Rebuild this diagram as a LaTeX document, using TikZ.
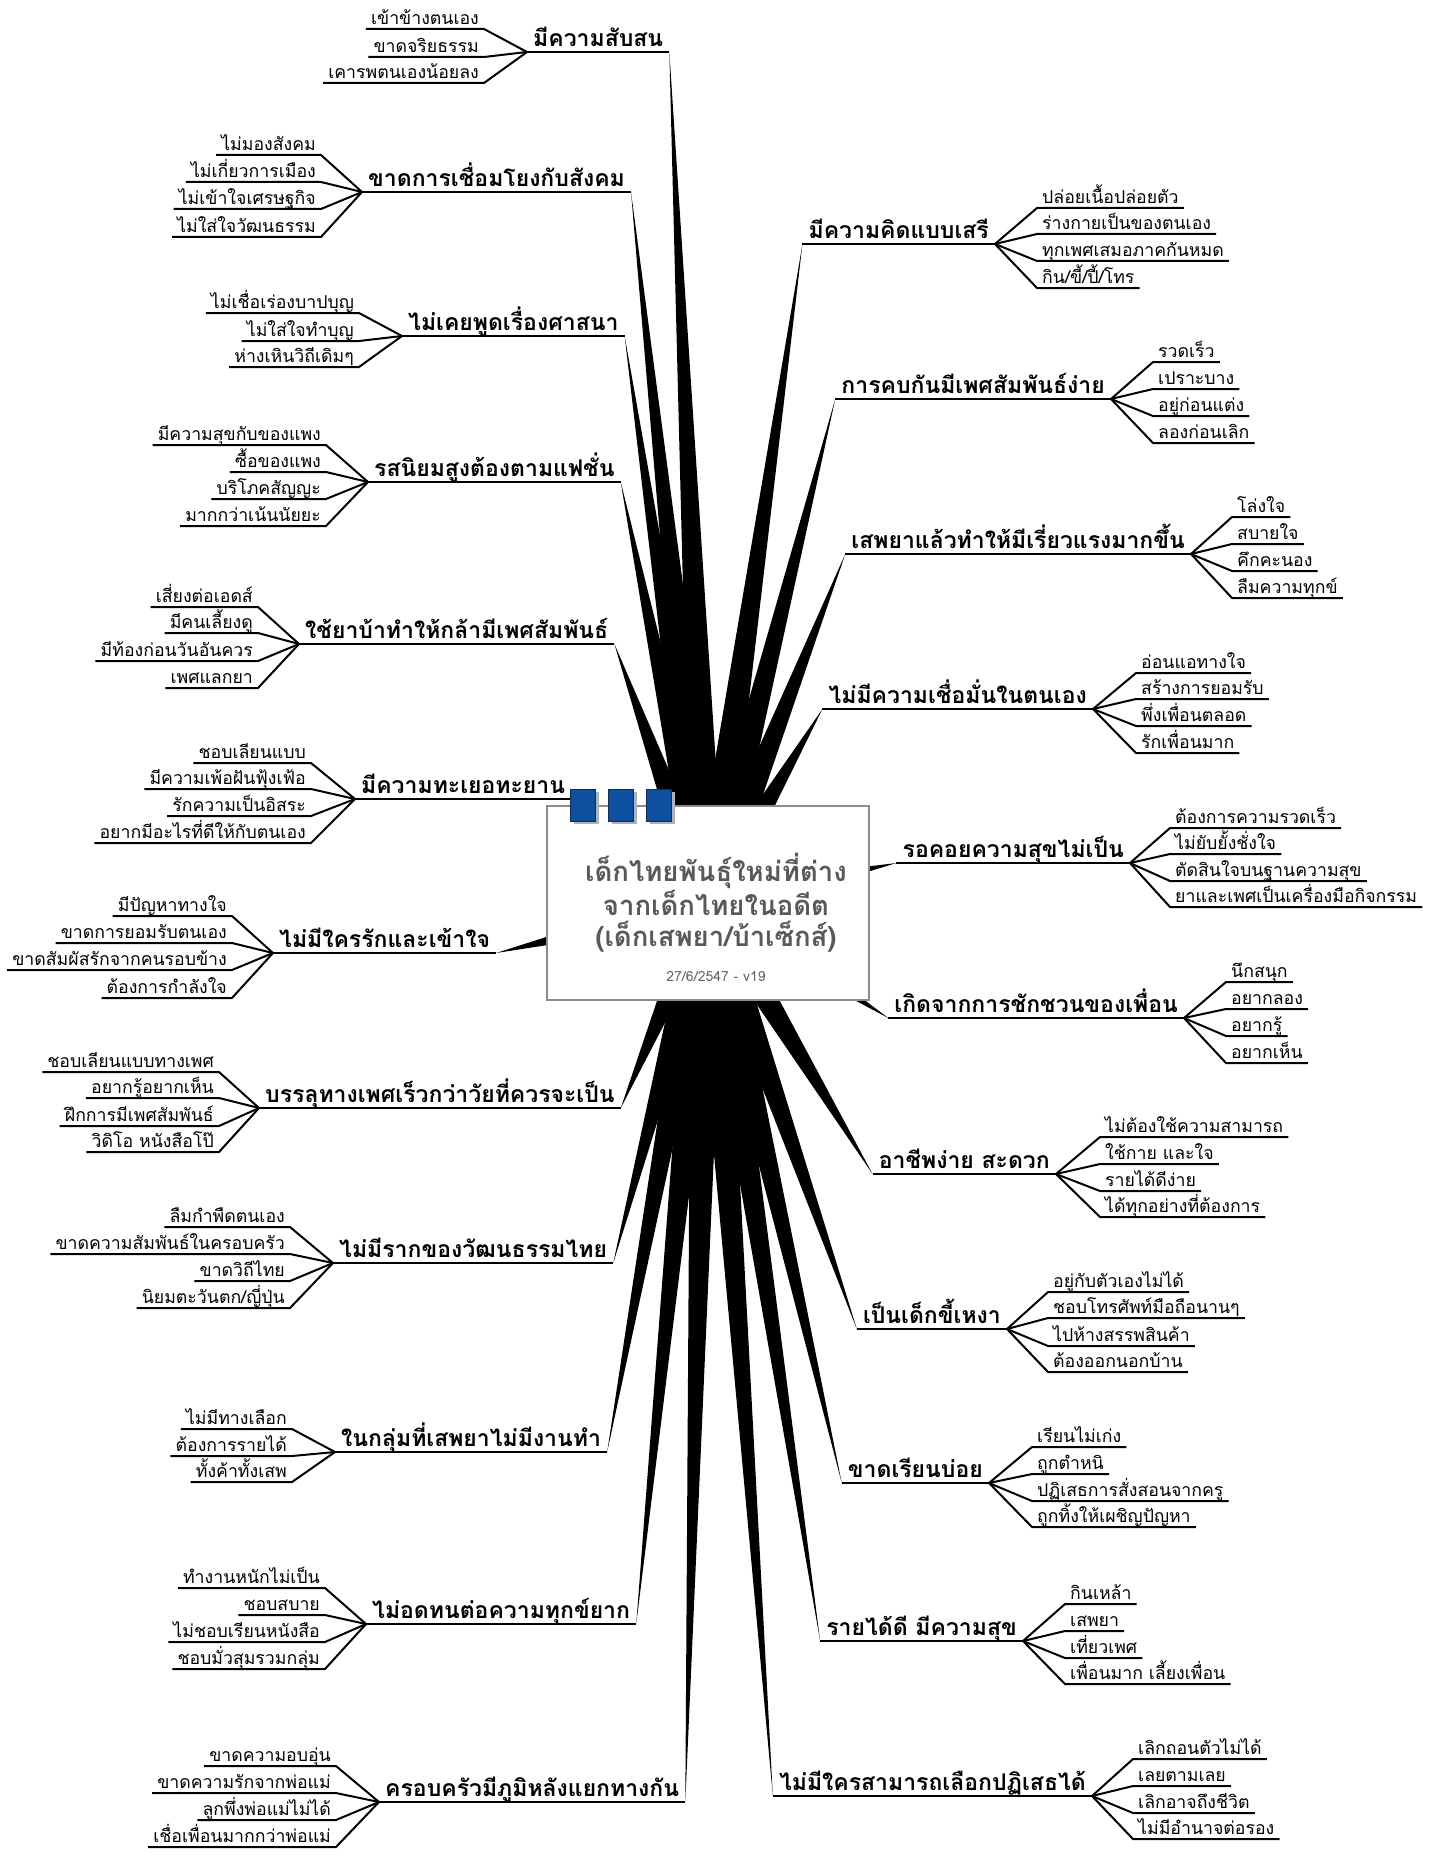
\documentclass[tikz,border=0pt]{standalone}
\usepackage{fontspec}
\setmainfont[Script=Thai]{Loma}
\usetikzlibrary{calc,shadows}
\definecolor{padblue}{HTML}{0F4FA0}
\newcommand{\subfont}{\fontsize{17.7}{20}\selectfont}
\newcommand{\topicfont}{\fontsize{23}{27}\selectfont\bfseries}
\newcommand{\spoke}[1]{\fill (#1) -- ($(hub)!17pt!90:(#1)$) -- ($(hub)!17pt!-90:(#1)$) -- cycle;}

\begin{document}
\begin{tikzpicture}[x=1pt,y=-1pt,
    sub/.style={font=\subfont,inner xsep=5pt,inner ysep=1pt,text depth=3pt},
    lsub/.style={sub,anchor=south east},
    rsub/.style={sub,anchor=south west},
    topic/.style={font=\topicfont,inner xsep=6pt,inner ysep=1pt,text depth=4pt},
    ltopic/.style={topic,anchor=south west},
    rtopic/.style={topic,anchor=south east},
    twig/.style={line width=2pt},
    bough/.style={line width=2.5pt},
    pad/.style={draw=padblue!60!black,fill=padblue,minimum width=25pt,minimum height=32pt,inner sep=0pt,
      drop shadow={shadow xshift=3pt,shadow yshift=-3pt,fill=black!30,opacity=1}},
    core/.style={draw=black!45,fill=white,line width=1.2pt,minimum width=322pt,minimum height=194pt}]
\useasboundingbox (0,0) rectangle (1430,1862);
\coordinate (hub) at (708,903);

% left branches
\node[ltopic] (t1) at (527,52) {มีความสับสน};
\node[lsub] (t1a) at (484,29) {เข้าข้างตนเอง};
\node[lsub] (t1b) at (484,57) {ขาดจริยธรรม};
\node[lsub] (t1c) at (484,83) {เคารพตนเองน้อยลง};

\node[ltopic] (t2) at (362,192) {ขาดการเชื่อมโยงกับสังคม};
\node[lsub] (t2a) at (321,155) {ไม่มองสังคม};
\node[lsub] (t2b) at (321,182) {ไม่เกี่ยวการเมือง};
\node[lsub] (t2c) at (321,209) {ไม่เข้าใจเศรษฐกิจ};
\node[lsub] (t2d) at (321,237) {ไม่ใส่ใจวัฒนธรรม};

\node[ltopic] (t3) at (402,336) {ไม่เคยพูดเรื่องศาสนา};
\node[lsub] (t3a) at (359,313) {ไม่เชื่อเร่องบาปบุญ};
\node[lsub] (t3b) at (359,341) {ไม่ใส่ใจทำบุญ};
\node[lsub] (t3c) at (359,367) {ห่างเหินวิถีเดิมๆ};

\node[ltopic] (t4) at (368,482) {รสนิยมสูงต้องตามแฟชั่น};
\node[lsub] (t4a) at (326,445) {มีความสุขกับของแพง};
\node[lsub] (t4b) at (326,472) {ซื้อของแพง};
\node[lsub] (t4c) at (326,499) {บริโภคสัญญะ};
\node[lsub] (t4d) at (326,526) {มากกว่าเน้นนัยยะ};

\node[ltopic] (t5) at (299,644) {ใช้ยาบ้าทำให้กล้ามีเพศสัมพันธ์};
\node[lsub] (t5a) at (258,607) {เสี่ยงต่อเอดส์};
\node[lsub] (t5b) at (258,633) {มีคนเลี้ยงดู};
\node[lsub] (t5c) at (258,661) {มีท้องก่อนวันอันควร};
\node[lsub] (t5d) at (258,688) {เพศแลกยา};

\node[ltopic] (t6) at (355,799) {มีความทะเยอทะยาน};
\node[lsub] (t6a) at (311,763) {ชอบเลียนแบบ};
\node[lsub] (t6b) at (311,789) {มีความเพ้อฝันฟุ้งเฟ้อ};
\node[lsub] (t6c) at (311,816) {รักความเป็นอิสระ};
\node[lsub] (t6d) at (311,843) {อยากมีอะไรที่ดีให้กับตนเอง};

\node[ltopic] (t7) at (273,953) {ไม่มีใครรักและเข้าใจ};
\node[lsub] (t7a) at (232,916) {มีปัญหาทางใจ};
\node[lsub] (t7b) at (232,943) {ขาดการยอมรับตนเอง};
\node[lsub] (t7c) at (232,970) {ขาดสัมผัสรักจากคนรอบข้าง};
\node[lsub] (t7d) at (232,998) {ต้องการกำลังใจ};

\node[ltopic] (t8) at (259,1108) {บรรลุทางเพศเร็วกว่าวัยที่ควรจะเป็น};
\node[lsub] (t8a) at (219,1072) {ชอบเลียนแบบทางเพศ};
\node[lsub] (t8b) at (219,1098) {อยากรู้อยากเห็น};
\node[lsub] (t8c) at (219,1126) {ฝึกการมีเพศสัมพันธ์};
\node[lsub] (t8d) at (219,1152) {วิดิโอ หนังสือโป๊};

\node[ltopic] (t9) at (333,1263) {ไม่มีรากของวัฒนธรรมไทย};
\node[lsub] (t9a) at (290,1227) {ลืมกำพืดตนเอง};
\node[lsub] (t9b) at (290,1254) {ขาดความสัมพันธ์ในครอบครัว};
\node[lsub] (t9c) at (290,1281) {ขาดวิถีไทย};
\node[lsub] (t9d) at (290,1308) {นิยมตะวันตก/ญี่ปุ่น};

\node[ltopic] (t10) at (335,1452) {ในกลุ่มที่เสพยาไม่มีงานทำ};
\node[lsub] (t10a) at (292,1429) {ไม่มีทางเลือก};
\node[lsub] (t10b) at (292,1456) {ต้องการรายได้};
\node[lsub] (t10c) at (292,1482) {ทั้งค้าทั้งเสพ};

\node[ltopic] (t11) at (366,1624) {ไม่อดทนต่อความทุกข์ยาก};
\node[lsub] (t11a) at (325,1588) {ทำงานหนักไม่เป็น};
\node[lsub] (t11b) at (325,1615) {ชอบสบาย};
\node[lsub] (t11c) at (325,1642) {ไม่ชอบเรียนหนังสือ};
\node[lsub] (t11d) at (325,1669) {ชอบมั่วสุมรวมกลุ่ม};

\node[ltopic] (t12) at (379,1802) {ครอบครัวมีภูมิหลังแยกทางกัน};
\node[lsub] (t12a) at (336,1766) {ขาดความอบอุ่น};
\node[lsub] (t12b) at (336,1793) {ขาดความรักจากพ่อแม่};
\node[lsub] (t12c) at (336,1820) {ลูกพึ่งพ่อแม่ไม่ได้};
\node[lsub] (t12d) at (336,1847) {เชื่อเพื่อนมากกว่าพ่อแม่};

% right branches
\node[rtopic] (r1) at (995,244) {มีความคิดแบบเสรี};
\node[rsub] (r1a) at (1037,208) {ปล่อยเนื้อปล่อยตัว};
\node[rsub] (r1b) at (1037,234) {ร่างกายเป็นของตนเอง};
\node[rsub] (r1c) at (1037,261) {ทุกเพศเสมอภาคกันหมด};
\node[rsub] (r1d) at (1037,288) {กิน/ขี้/ปี้/โทร};

\node[rtopic] (r2) at (1111,399) {การคบกันมีเพศสัมพันธ์ง่าย};
\node[rsub] (r2a) at (1153,362) {รวดเร็ว};
\node[rsub] (r2b) at (1153,389) {เปราะบาง};
\node[rsub] (r2c) at (1153,416) {อยู่ก่อนแต่ง};
\node[rsub] (r2d) at (1153,443) {ลองก่อนเลิก};

\node[rtopic] (r3) at (1191,554) {เสพยาแล้วทำให้มีเรี่ยวแรงมากขึ้น};
\node[rsub] (r3a) at (1232,517) {โล่งใจ};
\node[rsub] (r3b) at (1232,544) {สบายใจ};
\node[rsub] (r3c) at (1232,571) {คึกคะนอง};
\node[rsub] (r3d) at (1232,598) {ลืมความทุกข์};

\node[rtopic] (r4) at (1093,709) {ไม่มีความเชื่อมั่นในตนเอง};
\node[rsub] (r4a) at (1136,673) {อ่อนแอทางใจ};
\node[rsub] (r4b) at (1136,699) {สร้างการยอมรับ};
\node[rsub] (r4c) at (1136,726) {พึ่งเพื่อนตลอด};
\node[rsub] (r4d) at (1136,753) {รักเพื่อนมาก};

\node[rtopic] (r5) at (1130,863) {รอคอยความสุขไม่เป็น};
\node[rsub] (r5a) at (1170,828) {ต้องการความรวดเร็ว};
\node[rsub] (r5b) at (1170,854) {ไม่ยับยั้งชั่งใจ};
\node[rsub] (r5c) at (1170,881) {ตัดสินใจบนฐานความสุข};
\node[rsub] (r5d) at (1170,907) {ยาและเพศเป็นเครื่องมือกิจกรรม};

\node[rtopic] (r6) at (1184,1018) {เกิดจากการชักชวนของเพื่อน};
\node[rsub] (r6a) at (1226,982) {นึกสนุก};
\node[rsub] (r6b) at (1226,1009) {อยากลอง};
\node[rsub] (r6c) at (1226,1036) {อยากรู้};
\node[rsub] (r6d) at (1226,1063) {อยากเห็น};

\node[rtopic] (r7) at (1056,1174) {อาชีพง่าย สะดวก};
\node[rsub] (r7a) at (1100,1137) {ไม่ต้องใช้ความสามารถ};
\node[rsub] (r7b) at (1100,1164) {ใช้กาย และใจ};
\node[rsub] (r7c) at (1100,1191) {รายได้ดีง่าย};
\node[rsub] (r7d) at (1100,1217) {ได้ทุกอย่างที่ต้องการ};

\node[rtopic] (r8) at (1007,1329) {เป็นเด็กขี้เหงา};
\node[rsub] (r8a) at (1048,1292) {อยู่กับตัวเองไม่ได้};
\node[rsub] (r8b) at (1048,1318) {ชอบโทรศัพท์มือถือนานๆ};
\node[rsub] (r8c) at (1048,1346) {ไปห้างสรรพสินค้า};
\node[rsub] (r8d) at (1048,1372) {ต้องออกนอกบ้าน};

\node[rtopic] (r9) at (989,1483) {ขาดเรียนบ่อย};
\node[rsub] (r9a) at (1032,1447) {เรียนไม่เก่ง};
\node[rsub] (r9b) at (1032,1474) {ถูกตำหนิ};
\node[rsub] (r9c) at (1032,1501) {ปฏิเสธการสั่งสอนจากครู};
\node[rsub] (r9d) at (1032,1527) {ถูกทิ้งให้เผชิญปัญหา};

\node[rtopic] (r10) at (1023,1641) {รายได้ดี มีความสุข};
\node[rsub] (r10a) at (1065,1604) {กินเหล้า};
\node[rsub] (r10b) at (1065,1631) {เสพยา};
\node[rsub] (r10c) at (1065,1658) {เที่ยวเพศ};
\node[rsub] (r10d) at (1065,1684) {เพื่อนมาก เลี้ยงเพื่อน};

\node[rtopic] (r11) at (1092,1796) {ไม่มีใครสามารถเลือกปฏิเสธได้};
\node[rsub] (r11a) at (1133,1759) {เลิกถอนตัวไม่ได้};
\node[rsub] (r11b) at (1133,1786) {เลยตามเลย};
\node[rsub] (r11c) at (1133,1813) {เลิกอาจถึงชีวิต};
\node[rsub] (r11d) at (1133,1839) {ไม่มีอำนาจต่อรอง};

% spokes to the centre
\foreach \t in {t1,t2,t3,t4,t5,t6,t7,t8,t9,t10,t11,t12} {\spoke{\t.south east}}
\foreach \t in {r1,r2,r3,r4,r5,r6,r7,r8,r9,r10,r11} {\spoke{\t.south west}}
\foreach \t in {t1,t2,t3,t4,t5,t6,t7,t8,t9,t10,t11,t12,r1,r2,r3,r4,r5,r6,r7,r8,r9,r10,r11}
  \draw[bough] (\t.south west) -- (\t.south east);

% twigs
\foreach \s in {a,b,c} {
  \draw[twig] (t1\s.south west) -- (t1\s.south east) -- (t1.south west);
  \draw[twig] (t3\s.south west) -- (t3\s.south east) -- (t3.south west);
  \draw[twig] (t10\s.south west) -- (t10\s.south east) -- (t10.south west);
}
\foreach \t in {t2,t4,t5,t6,t7,t8,t9,t11,t12}
  \foreach \s in {a,b,c,d}
    \draw[twig] (\t\s.south west) -- (\t\s.south east) -- (\t.south west);
\foreach \t in {r1,r2,r3,r4,r5,r6,r7,r8,r9,r10,r11}
  \foreach \s in {a,b,c,d}
    \draw[twig] (\t.south east) -- (\t\s.south west) -- (\t\s.south east);

% central topic
\node[core] (core) at (708,903) {};
\node[font=\fontsize{27.5}{31}\selectfont\bfseries,text=black!65,align=center] (title) at (716,903)
  {เด็กไทยพันธุ์ใหม่ที่ต่าง\\จากเด็กไทยในอดีต\\(เด็กเสพยา/บ้าเซ็กส์)};
\node[font=\fontsize{14}{16}\selectfont,text=black!60] (stamp) at (716,977) {27/6/2547 - v19};
\node[pad] (ring1) at (583,805) {};
\node[pad] (ring2) at (621,805) {};
\node[pad] (ring3) at (659,805) {};
\end{tikzpicture}
\end{document}
